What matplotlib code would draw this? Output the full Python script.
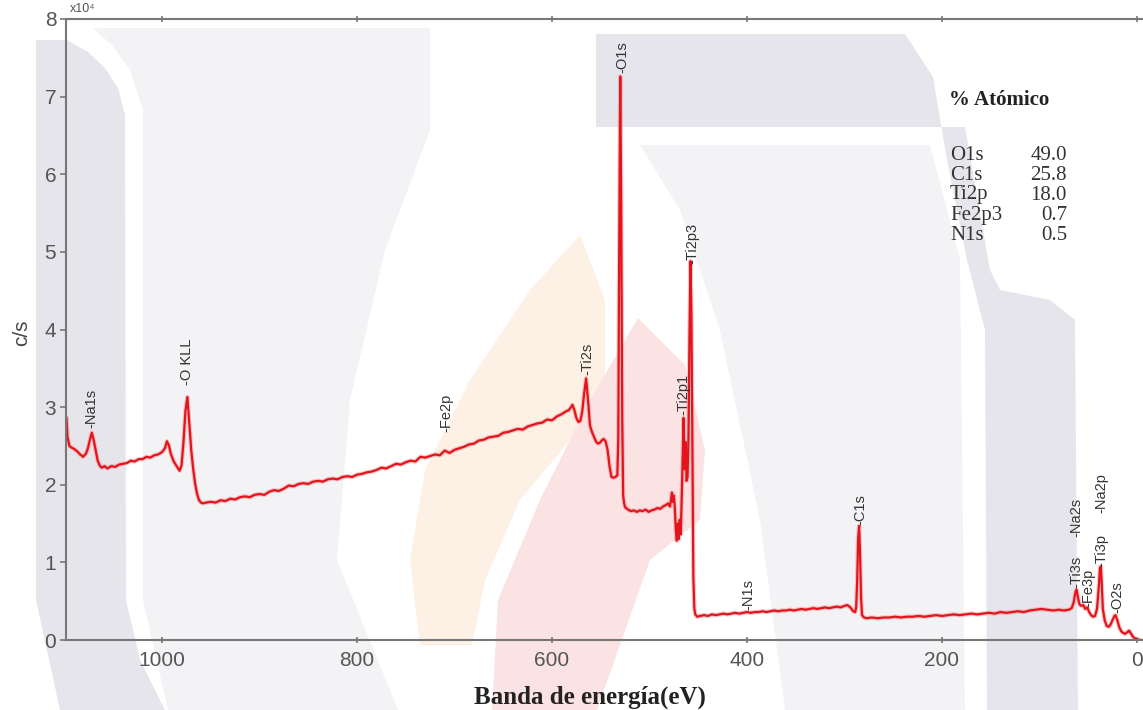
import numpy as np
import matplotlib
matplotlib.use("Agg")
from matplotlib import pyplot as plt
from matplotlib.patches import Polygon

# XPS survey spectrum, binding energy (eV) and counts (x10^4 c/s)
ev_low = [1098, 1097, 1095, 1093, 1090, 1087, 1084, 1081, 1078, 1076, 1074, 1072, 1070, 1068,
          1066, 1064, 1062, 1059, 1056, 1052, 1048, 1044, 1040, 1036, 1032, 1028, 1024, 1020,
          1016, 1012, 1008, 1004, 1000, 997, 995, 993, 991, 988, 985, 982, 980, 978, 976, 974,
          972, 970, 968, 966, 964, 962, 960, 958]
cps_low = [2.86, 2.62, 2.50, 2.48, 2.46, 2.43, 2.39, 2.36, 2.40, 2.47, 2.58, 2.67, 2.57, 2.44,
           2.31, 2.25, 2.22, 2.24, 2.21, 2.24, 2.23, 2.26, 2.27, 2.28, 2.31, 2.30, 2.33, 2.33,
           2.36, 2.35, 2.38, 2.39, 2.42, 2.47, 2.56, 2.51, 2.40, 2.30, 2.24, 2.18, 2.25, 2.55,
           2.95, 3.13, 2.78, 2.44, 2.20, 2.01, 1.88, 1.80, 1.77, 1.76]

ev_ramp = [955, 950, 945, 940, 935, 930, 925, 920, 915, 910, 905, 900, 895, 890, 885, 880, 875,
           870, 865, 860, 855, 850, 845, 840, 835, 830, 825, 820, 815, 810, 805, 800, 795, 790,
           785, 780, 775, 770, 765, 760, 755, 750, 745, 740, 735, 730, 725, 720, 715, 710, 705,
           700, 695, 690, 685, 680, 675, 670, 665, 660, 655, 650, 645, 640, 635, 630, 625, 620,
           615, 610, 605, 600, 595, 590, 585]
cps_ramp = [1.77, 1.78, 1.77, 1.80, 1.79, 1.82, 1.81, 1.84, 1.85, 1.84, 1.87, 1.88, 1.87, 1.91,
            1.93, 1.92, 1.95, 1.99, 1.98, 2.01, 2.02, 2.01, 2.04, 2.05, 2.04, 2.07, 2.08, 2.07,
            2.10, 2.11, 2.10, 2.13, 2.14, 2.16, 2.17, 2.19, 2.22, 2.21, 2.24, 2.27, 2.26, 2.29,
            2.31, 2.30, 2.36, 2.35, 2.37, 2.39, 2.38, 2.44, 2.41, 2.45, 2.47, 2.49, 2.52, 2.53,
            2.57, 2.58, 2.61, 2.62, 2.63, 2.67, 2.68, 2.70, 2.72, 2.71, 2.75, 2.77, 2.79, 2.80,
            2.84, 2.83, 2.88, 2.91, 2.95]

ev_o1s = [583, 581, 579, 577, 575, 573, 571, 569, 567, 565, 563, 561, 559, 557, 555, 553, 551,
          549, 547, 545, 543, 541, 539, 537, 535, 533, 532, 531, 530, 529, 528, 527, 526, 525]
cps_o1s = [2.96, 2.99, 3.03, 2.96, 2.86, 2.81, 2.82, 2.94, 3.18, 3.37, 3.08, 2.76, 2.68, 2.62,
           2.56, 2.53, 2.54, 2.57, 2.59, 2.56, 2.45, 2.24, 2.10, 2.09, 2.10, 2.12, 2.60, 5.20,
           7.26, 5.60, 2.90, 1.86, 1.76, 1.71]

ev_ti2p = [522, 519, 516, 513, 510, 507, 504, 501, 498, 495, 492, 489, 486, 483, 481, 479, 478,
           477, 476, 475, 474, 473, 472, 471, 470, 469, 468, 467, 466, 465, 464, 463, 462, 461,
           460, 459, 458, 457, 456, 455, 454, 453, 451]
cps_ti2p = [1.68, 1.66, 1.67, 1.65, 1.67, 1.66, 1.68, 1.65, 1.67, 1.68, 1.70, 1.69, 1.72, 1.74,
            1.76, 1.72, 1.80, 1.90, 1.78, 1.86, 1.70, 1.42, 1.28, 1.50, 1.30, 1.55, 1.36, 1.80,
            2.35, 2.86, 2.20, 2.55, 2.05, 2.10, 2.60, 3.90, 4.88, 4.20, 2.40, 0.80, 0.40, 0.33,
            0.30]

ev_c1s = [448, 444, 440, 436, 432, 428, 424, 420, 416, 412, 408, 404, 400, 396, 392, 388, 384,
          380, 376, 372, 368, 364, 360, 356, 352, 348, 344, 340, 336, 332, 328, 324, 320, 316,
          312, 308, 304, 300, 297, 294, 291, 289, 288, 287, 286, 285, 284, 283, 282, 280, 277]
cps_c1s = [0.31, 0.32, 0.31, 0.33, 0.32, 0.33, 0.34, 0.33, 0.34, 0.35, 0.34, 0.35, 0.36, 0.35,
           0.36, 0.36, 0.37, 0.36, 0.37, 0.38, 0.37, 0.38, 0.38, 0.39, 0.38, 0.39, 0.40, 0.39,
           0.40, 0.41, 0.40, 0.41, 0.42, 0.41, 0.42, 0.43, 0.42, 0.44, 0.45, 0.42, 0.37, 0.36,
           0.42, 0.75, 1.30, 1.47, 1.10, 0.55, 0.32, 0.29, 0.28]

ev_val = [272, 266, 260, 254, 248, 242, 236, 230, 224, 218, 212, 206, 200, 194, 188, 182, 176,
          170, 164, 158, 152, 146, 140, 134, 128, 122, 116, 110, 104, 98, 92, 86, 80, 75, 70, 67,
          65, 63, 62, 61, 59, 57, 55, 53, 51, 49, 47, 45, 43, 41, 39, 38, 37, 36, 35, 33, 31, 29,
          27, 25, 23, 22, 20, 18, 16, 14, 12, 10, 8, 6, 4, 2, 0, -3]
cps_val = [0.29, 0.28, 0.29, 0.29, 0.30, 0.29, 0.30, 0.30, 0.31, 0.30, 0.31, 0.32, 0.31, 0.32,
           0.33, 0.32, 0.33, 0.34, 0.33, 0.34, 0.35, 0.34, 0.36, 0.35, 0.36, 0.37, 0.36, 0.38,
           0.39, 0.40, 0.39, 0.38, 0.39, 0.38, 0.39, 0.41, 0.48, 0.62, 0.65, 0.58, 0.46, 0.44,
           0.45, 0.40, 0.42, 0.36, 0.32, 0.30, 0.31, 0.40, 0.70, 0.92, 0.95, 0.70, 0.40, 0.25,
           0.18, 0.17, 0.20, 0.26, 0.31, 0.32, 0.25, 0.16, 0.11, 0.09, 0.08, 0.10, 0.12, 0.08,
           0.04, 0.02, 0.01, 0.00]

# peak assignments drawn above the spectrum
peak_names = ['-Na1s', '-O KLL', '-Fe2p', '-Ti2s', '-O1s', '-Ti2p3', '-Ti2p1', '-N1s', '-C1s',
              '-Na2s', '-Ti3s', '-Fe3p', '-Ti3p', '-Na2p', '-O2s']
peak_ev = [1072, 974, 708, 564, 528, 456, 465, 399, 284, 62, 62, 50, 37, 37, 20]
peak_y = [2.73, 3.28, 2.68, 3.41, 7.30, 4.85, 2.90, 0.39, 1.48, 1.33, 0.67, 0.42, 0.94, 1.64, 0.35]

# quantification table
quant_names = ['O1s', 'C1s', 'Ti2p', 'Fe2p3', 'N1s']
quant_pct = [49.0, 25.8, 18.0, 0.7, 0.5]

ev = ev_low + ev_ramp + ev_o1s + ev_ti2p + ev_c1s + ev_val
cps = cps_low + cps_ramp + cps_o1s + cps_ti2p + cps_c1s + cps_val

W, H = 1143, 710
fig = plt.figure(figsize=(W / 100, H / 100), dpi=100)
fig.patch.set_facecolor('white')

# faint logo shapes behind the plot, in pixel units
bg = fig.add_axes([0, 0, 1, 1], zorder=0)
bg.set_xlim(0, W)
bg.set_ylim(H, 0)
bg.axis('off')
dark = '#e5e5eb'
light = '#f3f3f6'
shapes = [
    (light, [(93, 28), (430, 28), (430, 130), (385, 250), (350, 400), (337, 560), (398, 710),
             (168, 710), (143, 600), (143, 110), (130, 70), (112, 45)]),
    (dark, [(36, 40), (67, 40), (88, 52), (105, 68), (118, 88), (125, 115), (126, 600),
            (140, 660), (165, 710), (60, 710), (36, 600)]),
    (light, [(640, 145), (930, 145), (960, 260), (965, 710), (785, 710), (760, 520),
             (720, 330), (680, 210)]),
    (dark, [(596, 34), (905, 34), (933, 77), (947, 160), (967, 260), (985, 330), (987, 710),
            (1078, 710), (1075, 320), (1050, 300), (1000, 290), (990, 270), (965, 127),
            (596, 127)]),
    ('#fdf0e4', [(580, 235), (605, 300), (605, 380), (570, 440), (520, 500), (485, 580),
                 (472, 645), (420, 645), (410, 560), (425, 470), (470, 380), (530, 290)]),
    ('#fbe3e3', [(638, 318), (685, 365), (705, 450), (700, 520), (650, 560), (597, 710),
                 (492, 710), (498, 600), (540, 500), (590, 400)]),
]
for color, pts in shapes:
    bg.add_patch(Polygon(pts, closed=True, facecolor=color, edgecolor='none'))

ax = fig.add_axes([66 / W, (H - 640) / H, 1 - 66 / W, 621 / H], zorder=1)
ax.patch.set_alpha(0)
ax.plot(ev, cps, color='#f4a0a0', lw=3.2, alpha=0.6, solid_joinstyle='round')
ax.plot(ev, cps, color='#e3141d', lw=1.6, solid_joinstyle='round')

ax.set_xlim(1098.5, -6.2)
ax.set_ylim(0, 8)
ax.set_xticks([1000, 800, 600, 400, 200, 0])
ax.set_yticks(range(0, 9))

for name, x, y in zip(peak_names, peak_ev, peak_y):
    ax.text(x, y, name, rotation=90, ha='center', va='bottom', fontsize=10.5,
            family='Liberation Sans', color='#333333')

for side in ['top', 'left', 'bottom']:
    ax.spines[side].set_color('#777777')
    ax.spines[side].set_linewidth(1.5)
ax.spines['right'].set_visible(False)
ax.tick_params(axis='both', colors='#777777', labelcolor='#555555', labelsize=15,
               length=4, width=1.2)
ax.tick_params(axis='x', top=True, direction='inout', pad=6)
ax.tick_params(axis='y', direction='out', pad=3)
for lbl in ax.get_xticklabels() + ax.get_yticklabels():
    lbl.set_family('Liberation Sans')

fig.text(22 / W, 1 - 333 / H, 'c/s', rotation=90, ha='center', va='center', fontsize=15,
         family='Liberation Sans', color='#444444')
fig.text(590 / W, 1 - 697 / H, 'Banda de energía(eV)', ha='center', va='center',
         fontsize=18, family='Liberation Serif', weight='bold', color='#222222')
fig.text(70 / W, 1 - 15 / H, 'x10⁴', ha='left', va='bottom', fontsize=9,
         family=['Liberation Sans', 'DejaVu Sans'], color='#555555')

# atomic percentage table
fig.text(949 / W, 1 - 100 / H, '% Atómico', ha='left', va='center', fontsize=15,
         family='Liberation Serif', weight='bold', color='#222222')
for i, (name, pct) in enumerate(zip(quant_names, quant_pct)):
    ypix = 155 + 20 * i
    fig.text(950 / W, 1 - ypix / H, name, ha='left', va='center', fontsize=15,
             family='Liberation Serif', color='#333333')
    fig.text(1067 / W, 1 - ypix / H, f'{pct:.1f}', ha='right', va='center', fontsize=15,
             family='Liberation Serif', color='#333333')

fig.savefig('out.png', dpi=100)
